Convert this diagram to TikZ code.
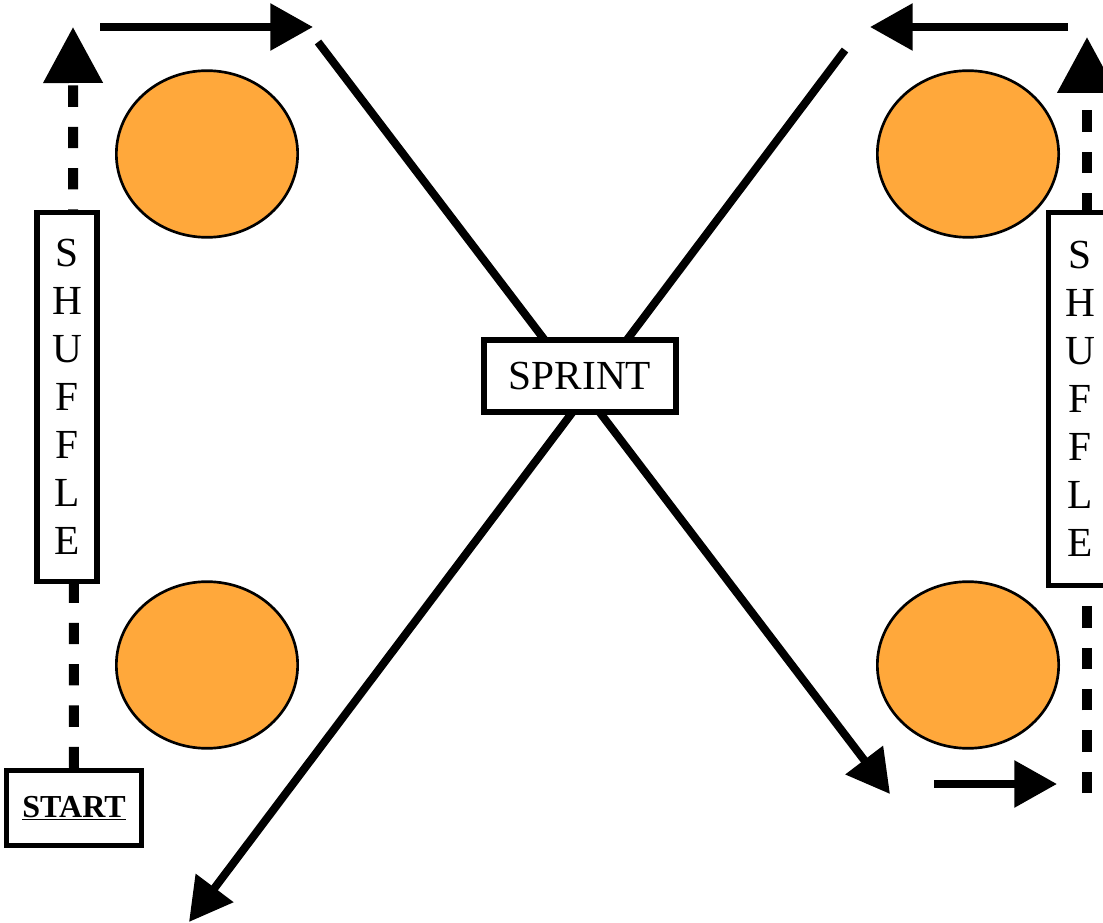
\documentclass[tikz,border=0pt]{standalone}
\usepackage{fontspec}
\setmainfont{Liberation Serif}
\usetikzlibrary{arrows.meta,shapes.geometric,backgrounds}
\definecolor{coneorange}{RGB}{255,168,59}

\begin{document}
\begin{tikzpicture}[x=0.75pt,y=-0.75pt,
  box/.style = {shape=rectangle, draw, line width=3.8pt,
    fill=white, inner sep=0pt, align=center},
  cone/.style = {shape=ellipse, draw, line width=2pt,
    fill=coneorange, minimum width=136pt, minimum height=125pt},
  run/.style = {line width=6pt, -{Triangle[length=32pt,width=34pt]}},
  shuffle/.style = {line width=7.5pt, dash pattern=on 16pt off 15pt,
    -{Triangle[length=42pt,width=43pt]}}]
  \path[use as bounding box] (0,0) rectangle (1103,923);
  \clip (0,0) rectangle (1103,923);
  % cones
  \node[cone] (cone1) at (207,154) {};
  \node[cone] (cone2) at (207,665) {};
  \node[cone] (cone3) at (968,154) {};
  \node[cone] (cone4) at (968,665) {};
  % labels
  \node[box, minimum width=144pt, minimum height=54pt,
    font=\fontsize{31pt}{36pt}\selectfont] (sprint) at (580,376) {SPRINT};
  \node[box, minimum width=101pt, minimum height=56pt,
    font=\fontsize{24pt}{28pt}\selectfont\bfseries] (start) at (74,808) {\underline{START}};
  \node[box, minimum width=45pt, minimum height=277pt,
    font=\fontsize{31pt}{36pt}\selectfont] (shuf1) at (67,397) {S\\H\\U\\F\\F\\L\\E};
  \node[box, minimum width=47pt, minimum height=280pt,
    font=\fontsize{31pt}{36pt}\selectfont] (shuf2) at (1080,399) {S\\H\\U\\F\\F\\L\\E};
  % arrow ends
  \coordinate (up1) at (73,27);
  \coordinate (top1a) at (100,27);
  \coordinate (top1b) at (313,27);
  \coordinate (x1a) at (318,42);
  \coordinate (x1b) at (890,794);
  \coordinate (x2a) at (845,50);
  \coordinate (x2b) at (189,922);
  \coordinate (top2a) at (1068,27);
  \coordinate (top2b) at (870,27);
  \coordinate (up2a) at (1087,793);
  \coordinate (up2b) at (1087,37);
  \coordinate (bot2a) at (934,784);
  \coordinate (bot2b) at (1057,784);
  \begin{scope}[on background layer]
    \draw[shuffle] (start.north) -- (up1);
    \draw[run] (top1a) -- (top1b);
    \draw[run] (x1a) -- (x1b);
    \draw[run] (x2a) -- (x2b);
    \draw[run] (top2a) -- (top2b);
    \draw[shuffle] (up2a) -- (up2b);
    \draw[run] (bot2a) -- (bot2b);
  \end{scope}
\end{tikzpicture}
\end{document}
